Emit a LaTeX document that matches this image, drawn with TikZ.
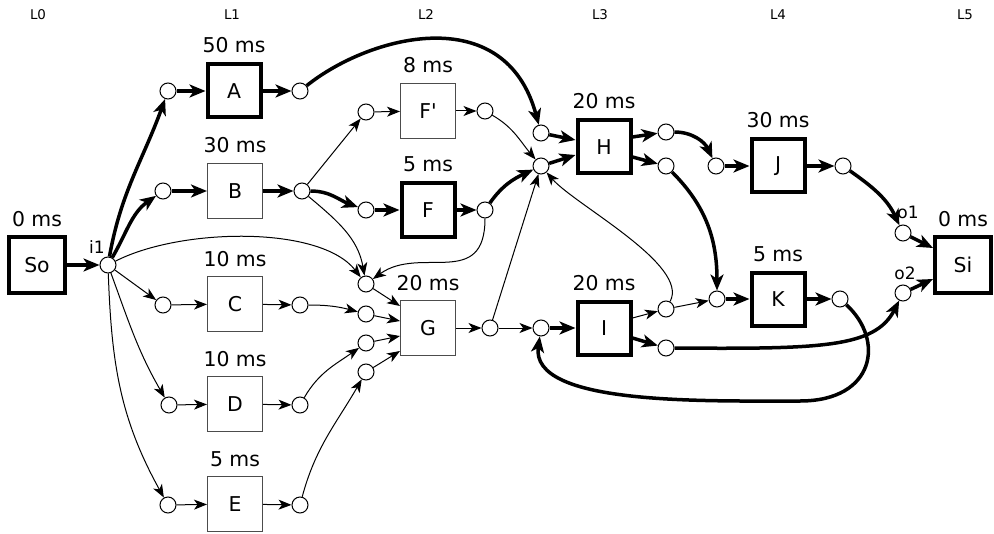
\documentclass[tikz,border=0pt]{standalone}
\usepackage{fontspec}
\setmainfont{DejaVu Sans}[Ligatures=TeXOff]
\usetikzlibrary{arrows.meta,calc}
\begin{document}
\begin{tikzpicture}[x=0.5pt,y=0.5pt,
  place/.style={circle,draw,fill=white,line width=0.5pt,minimum size=8pt,inner sep=0pt},
  tbox/.style={draw=black!70,fill=white,line width=0.6pt,minimum size=27.4pt,inner sep=0pt,font=\fontsize{10.2}{12}\selectfont},
  tboxb/.style={draw=black,fill=white,line width=2pt,minimum size=26.5pt,inner sep=0pt,font=\fontsize{10.2}{12}\selectfont},
  lab/.style={font=\fontsize{10.2}{12}\selectfont,anchor=base,inner sep=0pt},
  small/.style={font=\fontsize{8.5}{10}\selectfont,inner sep=0pt},
  layer/.style={font=\fontsize{6.7}{8}\selectfont,inner sep=0pt},
  th/.style={line width=0.5pt,-{Stealth[length=6.5pt,width=5pt,inset=1.8pt]}},
  tk/.style={line width=1.75pt,-{Stealth[length=8pt,width=6.5pt,inset=2.2pt]}},
]
\useasboundingbox (0,0) rectangle (994,-534);

% layer labels
\node[layer] (L0) at (38,-15) {L0};
\node[layer] (L1) at (232,-15) {L1};
\node[layer] (L2) at (426,-15) {L2};
\node[layer] (L3) at (600,-15) {L3};
\node[layer] (L4) at (778,-15) {L4};
\node[layer] (L5) at (965,-15) {L5};

% tasks
\node[tboxb,minimum size=28pt] (So) at (37,-265) {So};
\node[tboxb,minimum size=28pt] (Si) at (963,-265) {Si};
\node[tboxb] (A) at (234,-91) {A};
\node[tbox] (B) at (235,-191) {B};
\node[tbox] (C) at (235,-304) {C};
\node[tbox] (D) at (235,-404) {D};
\node[tbox] (E) at (235,-504) {E};
\node[tbox] (Fp) at (428,-111) {F'};
\node[tboxb] (F) at (428,-210) {F};
\node[tbox] (G) at (428,-328) {G};
\node[tboxb] (H) at (604,-147) {H};
\node[tboxb] (I) at (604,-328) {I};
\node[tboxb] (J) at (778,-166) {J};
\node[tboxb] (K) at (778,-299) {K};

% durations
\node[lab] (tSo) at ([yshift=19pt]So.center) {0 ms};
\node[lab] (tSi) at ([yshift=19pt]Si.center) {0 ms};
\node[lab] (tA) at ([yshift=19pt]A.center) {50 ms};
\node[lab] (tB) at ([yshift=19pt]B.center) {30 ms};
\node[lab] (tC) at ([yshift=19pt]C.center) {10 ms};
\node[lab] (tD) at ([yshift=19pt]D.center) {10 ms};
\node[lab] (tE) at ([yshift=19pt]E.center) {5 ms};
\node[lab] (tFp) at ([yshift=19pt]Fp.center) {8 ms};
\node[lab] (tF) at ([yshift=19pt]F.center) {5 ms};
\node[lab] (tG) at ([yshift=19pt]G.center) {20 ms};
\node[lab] (tH) at ([yshift=19pt]H.center) {20 ms};
\node[lab] (tI) at ([yshift=19pt]I.center) {20 ms};
\node[lab] (tJ) at ([yshift=19pt]J.center) {30 ms};
\node[lab] (tK) at ([yshift=19pt]K.center) {5 ms};

% places
\node[place] (i1) at (108,-265) {};
\node[small] (li1) at (97,-247) {i1};
\node[place] (Ain) at (168,-91) {};
\node[place] (Aout) at (300,-91) {};
\node[place] (Bin) at (163,-191) {};
\node[place] (Bout) at (302,-191) {};
\node[place] (Cin) at (163,-305) {};
\node[place] (Cout) at (300,-305) {};
\node[place] (Din) at (169,-405) {};
\node[place] (Dout) at (300,-405) {};
\node[place] (Ein) at (168,-505) {};
\node[place] (Eout) at (300,-505) {};
\node[place] (Fpin) at (366,-112) {};
\node[place] (Fpout) at (485,-111) {};
\node[place] (Fin) at (366,-210) {};
\node[place] (Fout) at (485,-210) {};
\node[place] (G1) at (366,-284) {};
\node[place] (G2) at (366,-314) {};
\node[place] (G3) at (366,-343) {};
\node[place] (G4) at (366,-372) {};
\node[place] (Gout) at (490,-328) {};
\node[place] (Iin) at (541,-328) {};
\node[place] (Hin1) at (541,-133) {};
\node[place] (Hin2) at (541,-166) {};
\node[place] (Hout1) at (666,-132) {};
\node[place] (Hout2) at (666,-166) {};
\node[place] (Iout1) at (666,-309) {};
\node[place] (Iout2) at (666,-348) {};
\node[place] (Jin) at (716,-166) {};
\node[place] (Jout) at (843,-166) {};
\node[place] (Kin) at (717,-299) {};
\node[place] (Kout) at (840,-299) {};
\node[place] (o1) at (903,-233) {};
\node[small] (lo1) at (908,-212) {o1};
\node[place] (o2) at (903,-293) {};
\node[small] (lo2) at (905,-273) {o2};
\coordinate (loopb) at (800,-401);

% source
\draw[tk] (So) -- (i1);
\draw[tk] (i1) to[out=80,in=-110] (Ain);
\draw[tk] (i1) to[out=60,in=-145] (Bin);
\draw[th] (i1) -- (Cin);
\draw[th] (i1) to[out=-70,in=120] (Din);
\draw[th] (i1) to[out=-88,in=119] (Ein);
\draw[th] (i1) .. controls (180,-228) and (320,-225) .. (G1);

% column L1
\draw[tk] (Ain) -- (A);
\draw[tk] (A) -- (Aout);
\draw[tk] (Bin) -- (B);
\draw[tk] (B) -- (Bout);
\draw[th] (Cin) -- (C);
\draw[th] (C) -- (Cout);
\draw[th] (Din) -- (D);
\draw[th] (D) -- (Dout);
\draw[th] (Ein) -- (E);
\draw[th] (E) -- (Eout);

% to column L2
\draw[tk] (Aout) .. controls (370,-35) and (505,0) .. (Hin1);
\draw[th] (Bout) -- (Fpin);
\draw[tk] (Bout) to[out=0,in=160] (Fin);
\draw[th] (Bout) to[out=-40,in=100] (G1);
\draw[th] (Cout) to[out=0,in=165] (G2);
\draw[th] (Dout) to[out=60,in=-145] (G3);
\draw[th] (Eout) to[out=75,in=-120] (G4);

% column L2
\draw[th] (Fpin) -- (Fp);
\draw[th] (Fp) -- (Fpout);
\draw[tk] (Fin) -- (F);
\draw[tk] (F) -- (Fout);
\draw[th] (G1) -- ([yshift=11pt]G.west);
\draw[th] (G2) -- ([yshift=3.5pt]G.west);
\draw[th] (G3) -- ([yshift=-4pt]G.west);
\draw[th] (G4) -- ([yshift=-11.5pt]G.west);
\draw[th] (G) -- (Gout);
\draw[th] (Fpout) to[out=-30,in=130] (Hin2);
\draw[tk] (Fout) to[out=55,in=-155] (Hin2);
\draw[th] (Fout) .. controls (485,-290) and (420,-245) .. (G1);
\draw[th] (Gout) -- (Hin2);
\draw[th] (Gout) -- (Iin);

% column L3
\draw[tk] (Hin1) -- ([yshift=3.5pt]H.west);
\draw[tk] (Hin2) -- ([yshift=-4pt]H.west);
\draw[tk] ([yshift=5pt]H.east) -- (Hout1);
\draw[tk] ([yshift=-5pt]H.east) -- (Hout2);
\draw[tk] (Iin) -- (I);
\draw[th] ([yshift=5pt]I.east) -- (Iout1);
\draw[tk] ([yshift=-5pt]I.east) -- (Iout2);
\draw[th] (Iout1) .. controls (690,-265) and (575,-205) .. (Hin2);
\draw[th] (Iout1) -- (Kin);
\draw[tk] (Hout1) to[out=0,in=115] (Jin);
\draw[tk] (Hout2) to[out=-45,in=90] (Kin);

% column L4
\draw[tk] (Jin) -- (J);
\draw[tk] (J) -- (Jout);
\draw[tk] (Kin) -- (K);
\draw[tk] (K) -- (Kout);
\draw[tk] (Jout) to[out=-35,in=115] (o1);
\draw[tk] (Iout2) .. controls (820,-349) and (875,-348) .. (o2);
\draw[tk] (Kout) .. controls (885,-340) and (875,-401) .. (loopb)
                 .. controls (700,-401) and (530,-405) .. (Iin);

% sink
\draw[tk] (o1) -- ([yshift=8.5pt]Si.west);
\draw[tk] (o2) -- ([yshift=-7pt]Si.west);
\end{tikzpicture}
\end{document}
